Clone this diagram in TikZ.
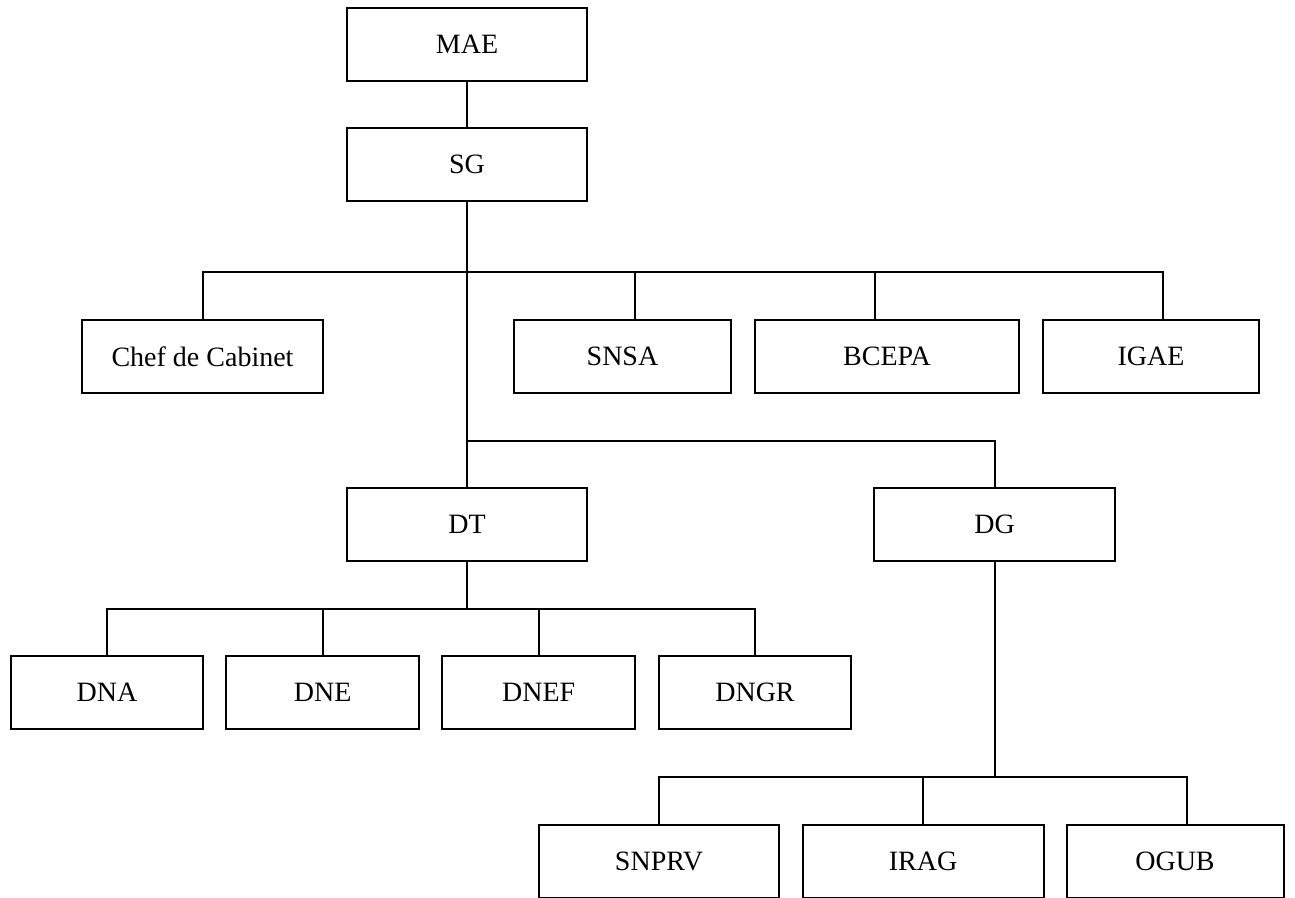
\documentclass[tikz,border=0pt]{standalone}
\usepackage{fontspec}
\setmainfont{Liberation Serif}
\begin{document}
\begin{tikzpicture}[x=1pt,y=-1pt,
  box/.style={draw, line width=2pt, minimum width=#1, minimum height=73pt, inner sep=0pt, font=\fontsize{28}{32}\selectfont},
  conn/.style={line width=2pt}]
\useasboundingbox (0,0) rectangle (1295,897);
% nodes
\node[box=240pt] (mae) at (467,44.5) {MAE};
\node[box=240pt] (sg) at (467,164.5) {SG};
\node[box=241pt] (chef) at (202.5,356.5) {Chef de Cabinet};
\node[box=217pt] (snsa) at (622.5,356.5) {SNSA};
\node[box=264pt] (bcepa) at (887,356.5) {BCEPA};
\node[box=216pt] (igae) at (1151,356.5) {IGAE};
\node[box=240pt] (dt) at (467,524.5) {DT};
\node[box=241pt] (dg) at (994.5,524.5) {DG};
\node[box=192pt] (dna) at (107,692.5) {DNA};
\node[box=193pt] (dne) at (322.7,692.5) {DNE};
\node[box=193pt] (dnef) at (538.7,692.5) {DNEF};
\node[box=192pt] (dngr) at (755,692.5) {DNGR};
\node[box=240pt] (snprv) at (659,861.5) {SNPRV};
\node[box=241pt] (irag) at (923,861.5) {IRAG};
\node[box=217pt] (ogub) at (1175,861.5) {OGUB};
% bus coordinates
\coordinate (b1a) at (202.7,272);
\coordinate (b1b) at (634.7,272);
\coordinate (b1c) at (874.7,272);
\coordinate (b1d) at (1163,272);
\coordinate (b2a) at (467,440.7);
\coordinate (b2b) at (994.5,440.7);
\coordinate (b3a) at (107,608.7);
\coordinate (b3b) at (322.7,608.7);
\coordinate (b3c) at (538.7,608.7);
\coordinate (b3d) at (755,608.7);
\coordinate (b3m) at (467,608.7);
\coordinate (b4a) at (659,777);
\coordinate (b4b) at (923,777);
\coordinate (b4c) at (1186.7,777);
\coordinate (b4m) at (994.5,777);
% connectors
\draw[conn] (mae.south) -- (sg.north);
\draw[conn] (sg.south) -- (b2a) -- (dt.north);
\draw[conn] (b1a |- chef.north) -- (b1a) -- (b1d) -- (b1d |- igae.north);
\draw[conn] (b1b) -- (b1b |- snsa.north);
\draw[conn] (b1c) -- (b1c |- bcepa.north);
\draw[conn] (b2a) -- (b2b) -- (dg.north);
\draw[conn] (dt.south) -- (b3m);
\draw[conn] (dna.north) -- (b3a) -- (b3d) -- (dngr.north);
\draw[conn] (b3b) -- (dne.north);
\draw[conn] (b3c) -- (dnef.north);
\draw[conn] (dg.south) -- (b4m);
\draw[conn] (snprv.north) -- (b4a) -- (b4c) -- (b4c |- ogub.north);
\draw[conn] (b4b) -- (irag.north);
\end{tikzpicture}
\end{document}
